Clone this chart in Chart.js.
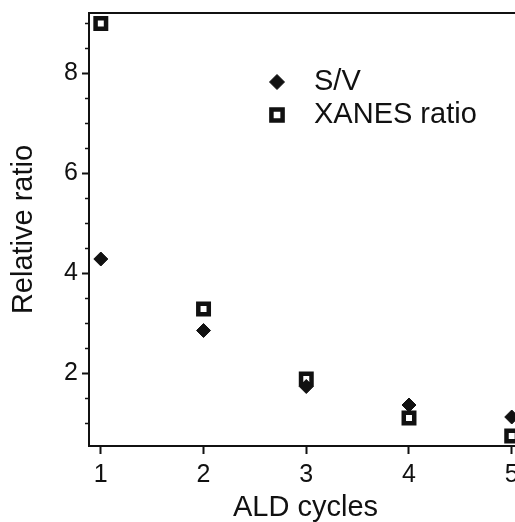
<!DOCTYPE html>
<html>
<head>
<meta charset="utf-8">
<script src="https://cdn.jsdelivr.net/npm/chart.js@4"></script>
<style>
  html, body { margin: 0; padding: 0; background: #fff; }
  #wrap { width: 515px; height: 522px; overflow: hidden; position: relative; }
</style>
</head>
<body>
<div id="wrap"><canvas id="grafica" width="545" height="522"></canvas></div>
<script>
(function(){
  const cycles = [1, 2, 3, 4, 5];
  const sv = [4.28, 2.85, 1.73, 1.36, 1.12];
  const xanes = [8.99, 3.28, 1.88, 1.10, 0.74];
  const yTicks = [2, 4, 6, 8];

  const fuente = "'Liberation Sans', Arial, Helvetica, sans-serif";
  const negro = '#111';

  // ticks menores del eje y y borde superior
  const extras = {
    id: 'extras',
    afterDraw(chart){
      const ctx = chart.ctx;
      const area = chart.chartArea;
      const y = chart.scales.y;
      ctx.save();
      ctx.strokeStyle = negro;
      ctx.lineWidth = 2;
      ctx.beginPath();
      ctx.moveTo(area.left - 1, area.top);
      ctx.lineTo(chart.width, area.top);
      ctx.stroke();
      ctx.lineWidth = 1.5;
      for (let v = Math.ceil(y.min * 2) / 2; v <= y.max; v += 0.5) {
        if (yTicks.includes(v)) continue;
        const py = Math.round(y.getPixelForValue(v)) + 0.5;
        ctx.beginPath();
        ctx.moveTo(area.left - 4, py);
        ctx.lineTo(area.left, py);
        ctx.stroke();
      }
      ctx.restore();
    }
  };

  // leyenda dentro del area
  const leyenda = {
    id: 'leyenda',
    afterDraw(chart){
      const ctx = chart.ctx;
      const filas = [
        { texto: 'S/V', y: 82 },
        { texto: 'XANES ratio', y: 115 }
      ];
      ctx.save();
      chart.data.datasets.forEach((ds, i) => {
        ctx.fillStyle = ds.pointBackgroundColor;
        ctx.strokeStyle = ds.pointBorderColor;
        ctx.lineWidth = ds.pointBorderWidth;
        Chart.helpers.drawPoint(ctx, {
          pointStyle: ds.pointStyle,
          radius: ds.pointRadius + 0.5,
          rotation: 0,
          borderWidth: ds.pointBorderWidth
        }, 277, filas[i].y);
        ctx.fillStyle = negro;
        ctx.font = '29px ' + fuente;
        ctx.textAlign = 'left';
        ctx.textBaseline = 'middle';
        ctx.fillText(filas[i].texto, 314, filas[i].y);
      });
      ctx.restore();
    }
  };

  new Chart(document.getElementById('grafica'), {
    type: 'scatter',
    data: {
      datasets: [{
        label: 'S/V',
        data: cycles.map((c, i) => ({ x: c, y: sv[i] })),
        pointStyle: 'rectRot',
        pointRadius: 7,
        pointBorderWidth: 1,
        pointBackgroundColor: negro,
        pointBorderColor: negro
      }, {
        label: 'XANES ratio',
        data: cycles.map((c, i) => ({ x: c, y: xanes[i] })),
        pointStyle: 'rect',
        pointRadius: 7.4,
        pointBorderWidth: 4.5,
        pointBackgroundColor: '#fff',
        pointBorderColor: negro
      }]
    },
    options: {
      responsive: false,
      animation: false,
      events: [],
      layout: { padding: { top: 13, right: 23, left: 0, bottom: 0 } },
      plugins: {
        legend: { display: false },
        tooltip: { enabled: false }
      },
      scales: {
        x: {
          type: 'linear',
          min: 0.885,
          max: 5.1,
          afterFit(scale){ scale.height = 76; scale.paddingLeft = 0; scale.paddingRight = 0; },
          border: { color: negro, width: 2 },
          grid: { drawOnChartArea: false, drawTicks: true, tickLength: 8, tickWidth: 2, tickColor: negro },
          ticks: {
            stepSize: 1,
            includeBounds: false,
            padding: 6,
            color: negro,
            font: { family: fuente, size: 25 },
            callback: v => cycles.includes(v) ? String(v) : ''
          },
          title: {
            display: true,
            text: 'ALD cycles',
            color: negro,
            font: { family: fuente, size: 29, lineHeight: 1 },
            padding: { top: 0, bottom: 0 }
          }
        },
        y: {
          min: 0.54,
          max: 9.2,
          afterFit(scale){ scale.width = 89; scale.paddingTop = 0; scale.paddingBottom = 0; },
          border: { color: negro, width: 2 },
          grid: { drawOnChartArea: false, drawTicks: true, tickLength: 7, tickWidth: 2, tickColor: negro },
          ticks: {
            stepSize: 2,
            includeBounds: false,
            padding: 4,
            color: negro,
            font: { family: fuente, size: 25 },
            callback: v => yTicks.includes(v) ? String(v) : ''
          },
          title: {
            display: true,
            text: 'Relative ratio',
            color: negro,
            font: { family: fuente, size: 29, lineHeight: 1.2 },
            padding: { top: 7, bottom: 0 }
          }
        }
      }
    },
    plugins: [extras, leyenda]
  });
})();
</script>
</body>
</html>
